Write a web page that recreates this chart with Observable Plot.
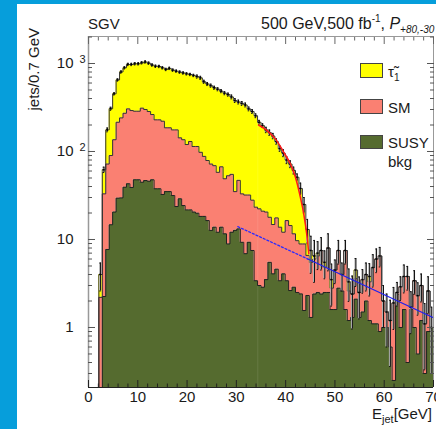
<!DOCTYPE html>
<html><head><meta charset="utf-8">
<script src="https://cdn.jsdelivr.net/npm/d3@7"></script>
<script src="https://cdn.jsdelivr.net/npm/@observablehq/plot@0.6"></script>
<style>
html,body{margin:0;padding:0;background:#fff;}
#wrap{position:relative;width:436px;height:429px;overflow:hidden;font-family:"Liberation Sans",Arial,Helvetica,sans-serif;}
#wrap svg{position:absolute;left:0;top:0;}
.strip{position:absolute;background:#069edb;}
</style></head><body><div id="wrap"></div>
<script>
// ---- data ----
const binWidth = 0.7; // GeV
// stacked levels per 0.7 GeV bin, 0..70 GeV
const totalStack = [0,0,0,4.0,62,176,306,452,650,800,
 893,975,975,992,992,1018,1040,1008,960,930,
 925,893,855,880,840,818,798,780,763,750,
 731,710,687,620,585,560,530,510,485,460,
 443,417,380,365,352,338,305,285,255,215,
 197,176,164,150,130,108,96,80,72,61,
 51,38,25,13,7.5,6.5,7.0,7.5,5.5,8.0,
 3.5,4.5,7.5,4.0,7.5,3.3,2.4,4.5,2.5,3.5,
 4.0,3.8,4.8,6.0,6.5,2.0,1.5,1.2,1.9,2.5,
 2.9,3.8,3.8,1.7,3.4,2.3,3.0,1.1,2.6,1.0];
const smStack = [0,0,0,2.2,33,72,90,136,215,241,
 272,305,292,287,287,311,300,285,263,229,
 229,221,186,186,176,176,143,136,120,130,
 114,114,98,88,79,72,69,58,67,49,
 53,55,35,47,33,32,32,28,23.3,22.3,
 21,20.5,17.9,14.8,17.6,13.8,12.1,16.4,14.4,11.6,
 9.7,8.9,8.9,6.6,5.5,6.0,6.5,7.5,4.8,8.0,
 2.8,4.5,7.5,4.0,7.5,2.6,2.4,3.6,2.5,3.5,
 4.0,3.3,4.8,6.0,6.5,2.0,1.5,1.2,1.9,2.5,
 2.9,3.8,3.8,1.7,3.4,2.3,3.0,1.1,2.6,1.0];
const susyBkg = [0,0,0,0,2.25,7.7,14.7,20.5,29.5,29.7,
 39.3,43,39,47.7,47.7,44.8,46.8,46,47.7,37.7,
 37.7,32.5,35,35,31.6,23.7,29,24.3,21.7,21.7,
 20.5,19.9,18.3,18.3,16.4,12.7,13.8,12.1,13.8,11.6,
 8.9,12.1,12.7,13.2,9.3,6.9,9.3,7.5,3.4,3.0,
 2.87,3.5,5.5,4.07,4.6,3.4,4.07,3.4,2.63,2.87,
 2.5,2.41,1.56,2.31,1.3,2.4,2.5,2.4,2.5,2.5,
 1.6,1.6,2.8,2.6,1.6,1.2,1.3,2.1,1.3,1.5,
 2.0,1.2,1.1,1.1,0.9,1.0,1.0,0.6,0.25,2.4,
 1.0,1.6,0.4,1.6,1.0,0.5,1.2,0.3,0.9,1.0];
// relative size of the error bar on the total, per bin
const errFrac = [0,0,0,0.35,0.07,0.05,0.04,0.03,0.03,0.03,
 0.03,0.03,0.03,0.03,0.03,0.03,0.03,0.03,0.03,0.03,
 0.03,0.03,0.03,0.03,0.03,0.03,0.03,0.03,0.03,0.03,
 0.03,0.04,0.04,0.04,0.04,0.04,0.04,0.04,0.04,0.04,
 0.04,0.05,0.05,0.05,0.05,0.05,0.05,0.05,0.05,0.05,
 0.05,0.07,0.07,0.07,0.07,0.07,0.09,0.09,0.09,0.09,
 0.09,0.15,0.2,0.3,0.45,0.5,0.35,0.4,0.35,0.45,
 0.5,0.3,0.3,0.35,0.3,0.4,0.6,0.35,0.5,0.3,
 0.35,0.4,0.4,0.3,0.25,0.5,0.6,0.7,0.5,0.3,
 0.3,0.35,0.3,0.5,0.3,0.4,0.35,0.7,0.45,0.7];
// fitted curves
const redFitX = [34.5, 36.25, 37.93, 39.62, 40.97, 41.99, 43.0, 43.67, 44.36, 44.7];
const redFitY = [200, 173, 139, 98, 72, 51, 30, 19.6, 10.6, 6.9];
const blueDashX = [30.3, 44.5], blueDashY = [14, 6.0];
const blueSolidX = [44.5, 70], blueSolidY = [6.0, 1.29];
// axes
const xMajor = [0,10,20,30,40,50,60,70];
const xMinor = [2,4,6,8,12,14,16,18,22,24,26,28,32,34,36,38,42,44,46,48,52,54,56,58,62,64,66,68];
const yMajor = [1,10,100,1000];
const yLabelBase = ["1","10","10","10"];
const yLabelExp = ["","","2","3"];
const yMinor = [0.3,0.4,0.5,0.6,0.7,0.8,0.9,2,3,4,5,6,7,8,9,20,30,40,50,60,70,80,90,200,300,400,500,600,700,800,900,2000];
const seriesNames = ["τ̃", "SM", "SUSY"];
const colors = {stau:"#ffff00", sm:"#fa8072", susy:"#556b2f"};

// ---- build tables ----
const yMin = 0.208, yMax = 2027;
const cl = v => Math.max(v, yMin);
const steps = totalStack.map((t,i) => ({x: i*binWidth, t: cl(t), s: cl(smStack[i]), b: cl(susyBkg[i])}));
steps.push({...steps[steps.length-1], x: totalStack.length*binWidth});
const errs = totalStack.map((t,i) => ({c:(i+0.5)*binWidth, t, lo: t*(1-errFrac[i]), hi: t*(1+errFrac[i])})).filter(d => d.t > 0);
const red = redFitX.map((x,i)=>({x, y: redFitY[i]}));
const blueD = blueDashX.map((x,i)=>({x, y: blueDashY[i]}));
const blueS = blueSolidX.map((x,i)=>({x, y: blueSolidY[i]}));
const yLab = yMajor.map((v,i)=>({v, base: yLabelBase[i], exp: yLabelExp[i]}));
const blank = () => "";

const plot = Plot.plot({
  width: 436, height: 429,
  marginLeft: 88, marginRight: 3, marginTop: 36, marginBottom: 42,
  style: {background: "transparent", fontFamily: "Liberation Sans, Arial, sans-serif", color: "#1a1a1a", overflow: "visible"},
  x: {domain: [0, 70], label: null},
  y: {type: "log", domain: [yMin, yMax], label: null},
  marks: [
    Plot.areaY(steps, {x: "x", y1: yMin, y2: "b", curve: "step-after", fill: colors.susy}),
    Plot.areaY(steps, {x: "x", y1: "b", y2: "s", curve: "step-after", fill: colors.sm}),
    Plot.areaY(steps, {x: "x", y1: "s", y2: "t", curve: "step-after", fill: colors.stau}),
    Plot.ruleX([34.35], {stroke: "#fff", strokeOpacity: 0.1}),
    Plot.line(steps, {x: "x", y: "b", curve: "step-after", stroke: "#222", strokeWidth: 1}),
    Plot.line(steps, {x: "x", y: "s", curve: "step-after", stroke: "#333", strokeWidth: 1}),
    Plot.line(steps, {x: "x", y: "t", curve: "step-after", stroke: "#333", strokeWidth: 1}),
    Plot.rect(errs, {x1: d => d.c - 0.2, x2: d => d.c + 0.2, y1: "lo", y2: "hi", fill: "#b5b5b5"}),
    Plot.ruleX(errs, {x: "c", y1: "lo", y2: "hi", stroke: "#111", strokeWidth: 1}),
    Plot.ruleY(errs, {y: "lo", x1: d => d.c - 0.15, x2: d => d.c + 0.15, stroke: "#111"}),
    Plot.ruleY(errs, {y: "hi", x1: d => d.c - 0.15, x2: d => d.c + 0.15, stroke: "#111"}),
    Plot.ruleY(errs, {y: "t", x1: d => d.c - 0.2, x2: d => d.c + 0.2, stroke: "#000", strokeWidth: 1.5}),
    Plot.line(red, {x: "x", y: "y", curve: "monotone-x", stroke: "#ff1a1a", strokeWidth: 1.5}),
    Plot.line(blueD, {x: "x", y: "y", stroke: "#2a2aff", strokeWidth: 1.3, strokeDasharray: "2,2"}),
    Plot.line(blueS, {x: "x", y: "y", stroke: "#2020ee", strokeWidth: 1.3}),
    // frame
    Plot.ruleX([0], {stroke: "#999", strokeWidth: 1.5}),
    Plot.ruleX([70], {stroke: "#999", strokeWidth: 1}),
    Plot.ruleY([yMax], {stroke: "#999", strokeWidth: 1}),
    Plot.ruleY([yMin], {stroke: "#222", strokeWidth: 1}),
    // ticks (inward)
    Plot.axisX(xMajor, {anchor: "bottom", tickSize: -7, tickFormat: blank, stroke: "#222", label: null}),
    Plot.axisX(xMinor, {anchor: "bottom", tickSize: -3.5, tickFormat: blank, stroke: "#222", label: null}),
    Plot.axisX(xMajor, {anchor: "top", tickSize: -7, tickFormat: blank, stroke: "#666", label: null}),
    Plot.axisX(xMinor, {anchor: "top", tickSize: -3.5, tickFormat: blank, stroke: "#666", label: null}),
    Plot.axisY(yMajor, {anchor: "left", tickSize: -7, tickFormat: blank, stroke: "#555", label: null}),
    Plot.axisY(yMinor, {anchor: "left", tickSize: -4, tickFormat: blank, stroke: "#555", label: null}),
    Plot.axisY(yMajor, {anchor: "right", tickSize: -7, tickFormat: blank, stroke: "#555", label: null}),
    Plot.axisY(yMinor, {anchor: "right", tickSize: -4, tickFormat: blank, stroke: "#555", label: null}),
    // labels
    Plot.axisX(xMajor, {anchor: "bottom", tickSize: 0, tickPadding: 4, fontSize: 15, label: null, fill: "#1a1a1a"}),
    Plot.text(yLab, {y: "v", text: "base", frameAnchor: "left", dx: -15, textAnchor: "end", fontSize: 15, fill: "#1a1a1a"}),
    Plot.text(yLab.filter(d => d.exp), {y: "v", text: "exp", frameAnchor: "left", dx: -9, dy: -4, textAnchor: "start", fontSize: 11, fill: "#1a1a1a"})
  ]
});
document.getElementById("wrap").appendChild(plot);

// ---- titles, axis titles, legend ----
const svg = d3.select(plot);
const ff = "Liberation Sans, Arial, sans-serif";
const g = svg.append("g").attr("font-family", ff).attr("fill", "#1a1a1a").attr("text-anchor", "start");
g.append("text").attr("x", 88).attr("y", 29).attr("font-size", 15).text("SGV");
const hdr = g.append("text").attr("x", 261).attr("y", 29).attr("font-size", 16);
hdr.append("tspan").text("500 GeV,500 fb");
hdr.append("tspan").attr("font-size", 10).attr("dy", -7).text("-1");
hdr.append("tspan").attr("dy", 7).text(", ");
hdr.append("tspan").attr("font-style", "italic").text("P");
hdr.append("tspan").attr("font-style", "italic").attr("font-size", 10).attr("dy", 4).text("+80,-30");
g.append("text").attr("transform", "translate(39,28) rotate(-90)").attr("text-anchor", "end").attr("font-size", 15).text("jets/0.7 GeV");
const xt = g.append("text").attr("x", 372).attr("y", 419).attr("font-size", 15);
xt.append("tspan").text("E");
xt.append("tspan").attr("font-size", 11).attr("dy", 4).text("jet");
xt.append("tspan").attr("dy", -4).text("[GeV]");
// legend
const leg = [
  {fill: colors.stau, y: 63, h: 14},
  {fill: colors.sm, y: 99, h: 14},
  {fill: colors.susy, y: 135, h: 13}
];
leg.forEach(d => g.append("rect").attr("x", 360.5).attr("y", d.y + 0.5).attr("width", 22).attr("height", d.h).attr("fill", d.fill).attr("stroke", "#444"));
const t1 = g.append("text").attr("x", 388).attr("y", 77).attr("font-size", 15);
t1.append("tspan").text(seriesNames[0]);
t1.append("tspan").attr("font-size", 10).attr("dy", 4).text("1");
g.append("text").attr("x", 388).attr("y", 113).attr("font-size", 15).text(seriesNames[1]);
g.append("text").attr("x", 388).attr("y", 148).attr("font-size", 15).text(seriesNames[2]);
g.append("text").attr("x", 388).attr("y", 167).attr("font-size", 15).text("bkg");

// blue page border
const wrap = document.getElementById("wrap");
[["0px","0px","17px","429px"],["0px","0px","436px","4px"]].forEach(([l,t,w,h]) => {
  const s = document.createElement("div"); s.className = "strip";
  Object.assign(s.style, {left: l, top: t, width: w, height: h}); wrap.appendChild(s);
});
</script></body></html>
